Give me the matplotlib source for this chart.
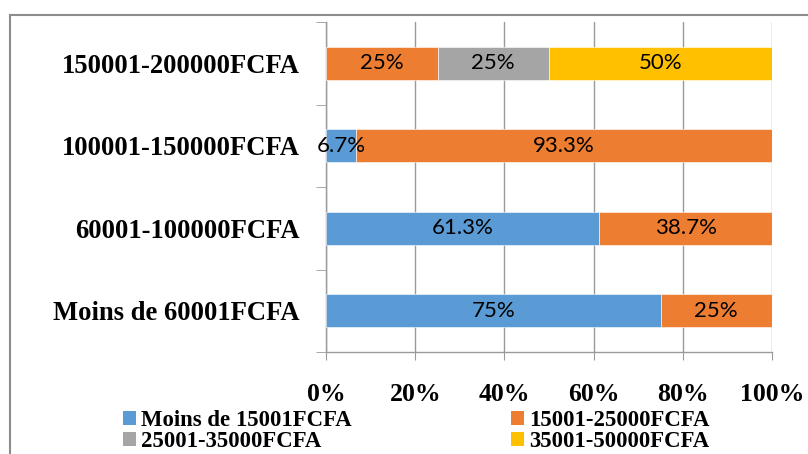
import numpy as np
import matplotlib
matplotlib.use("Agg")
import matplotlib.pyplot as plt
from matplotlib.patches import Rectangle, Patch

# categories (bottom to top, as drawn)
categories = ["Moins de 60001FCFA", "60001-100000FCFA",
              "100001-150000FCFA", "150001-200000FCFA"]
series_names = ["Moins de 15001FCFA", "15001-25000FCFA",
                "25001-35000FCFA", "35001-50000FCFA"]
colors = ["#5B9BD5", "#ED7D31", "#A5A5A5", "#FFC000"]

# pourcentages par serie
moins_15001 = [75, 61.3, 6.7, 0]
s15001_25000 = [25, 38.7, 93.3, 25]
s25001_35000 = [0, 0, 0, 25]
s35001_50000 = [0, 0, 0, 50]
values = [moins_15001, s15001_25000, s25001_35000, s35001_50000]

serif = "Liberation Serif"
gris = "#9a9a9a"

fig = plt.figure(figsize=(8.08, 4.54), dpi=100)
# cadre du graphique
fig.patches.append(Rectangle((10 / 808, -0.1), 1.2, 1 - 15 / 454 + 0.1,
                             transform=fig.transFigure, fill=False,
                             edgecolor="#8c8c8c", linewidth=1.5))

ax = fig.add_axes([326 / 808, 1 - 352 / 454, (772 - 326) / 808, 330 / 454])

y = np.arange(len(categories))
left = np.zeros(len(categories))
for name, vals, c in zip(series_names, values, colors):
    vals = np.array(vals, dtype=float)
    bars = ax.barh(y, vals, left=left, height=0.4, color=c, label=name,
                   edgecolor="white", linewidth=0.4, zorder=3)
    for b, v in zip(bars, vals):
        if v > 0:
            txt = ("%g" % v) + "%"
            ax.text(b.get_x() + b.get_width() / 2, b.get_y() + b.get_height() / 2,
                    txt, ha="center", va="center", fontsize=16,
                    family="Lato", color="black", zorder=4)
    left += vals

ax.set_xlim(0, 100)
ax.set_ylim(-0.5, len(categories) - 0.5)
ax.set_xticks(np.arange(0, 101, 20))
ax.set_xticklabels(["%d%%" % v for v in range(0, 101, 20)],
                   fontsize=18.5, fontweight="bold", family=serif)
ax.set_yticks(y)
ax.set_yticklabels(categories, fontsize=19.2, fontweight="bold", family=serif)
ax.tick_params(axis="y", length=0, pad=19)
ax.tick_params(axis="x", length=6, color=gris, pad=16)
# petits traits entre categories
ax.set_yticks(np.arange(-0.5, len(categories), 1), minor=True)
ax.tick_params(axis="y", which="minor", length=7, color=gris)

ax.grid(axis="x", color=gris, linewidth=1, zorder=0)
for s in ["top", "right"]:
    ax.spines[s].set_visible(False)
for s in ["left", "bottom"]:
    ax.spines[s].set_color(gris)
    ax.spines[s].set_linewidth(1)

handles = [Patch(facecolor=c) for c in colors]
order = [0, 2, 1, 3]
fig.legend([handles[i] for i in order], [series_names[i] for i in order],
           loc="center left", bbox_to_anchor=(123 / 808, 1 - 431 / 454),
           ncol=2, frameon=False, handlelength=0.55, handleheight=0.55,
           handletextpad=0.25, columnspacing=7.0, labelspacing=0.0,
           borderaxespad=0, borderpad=0,
           prop={"family": serif, "weight": "bold", "size": 16.4})

fig.savefig("out.png", dpi=100)
